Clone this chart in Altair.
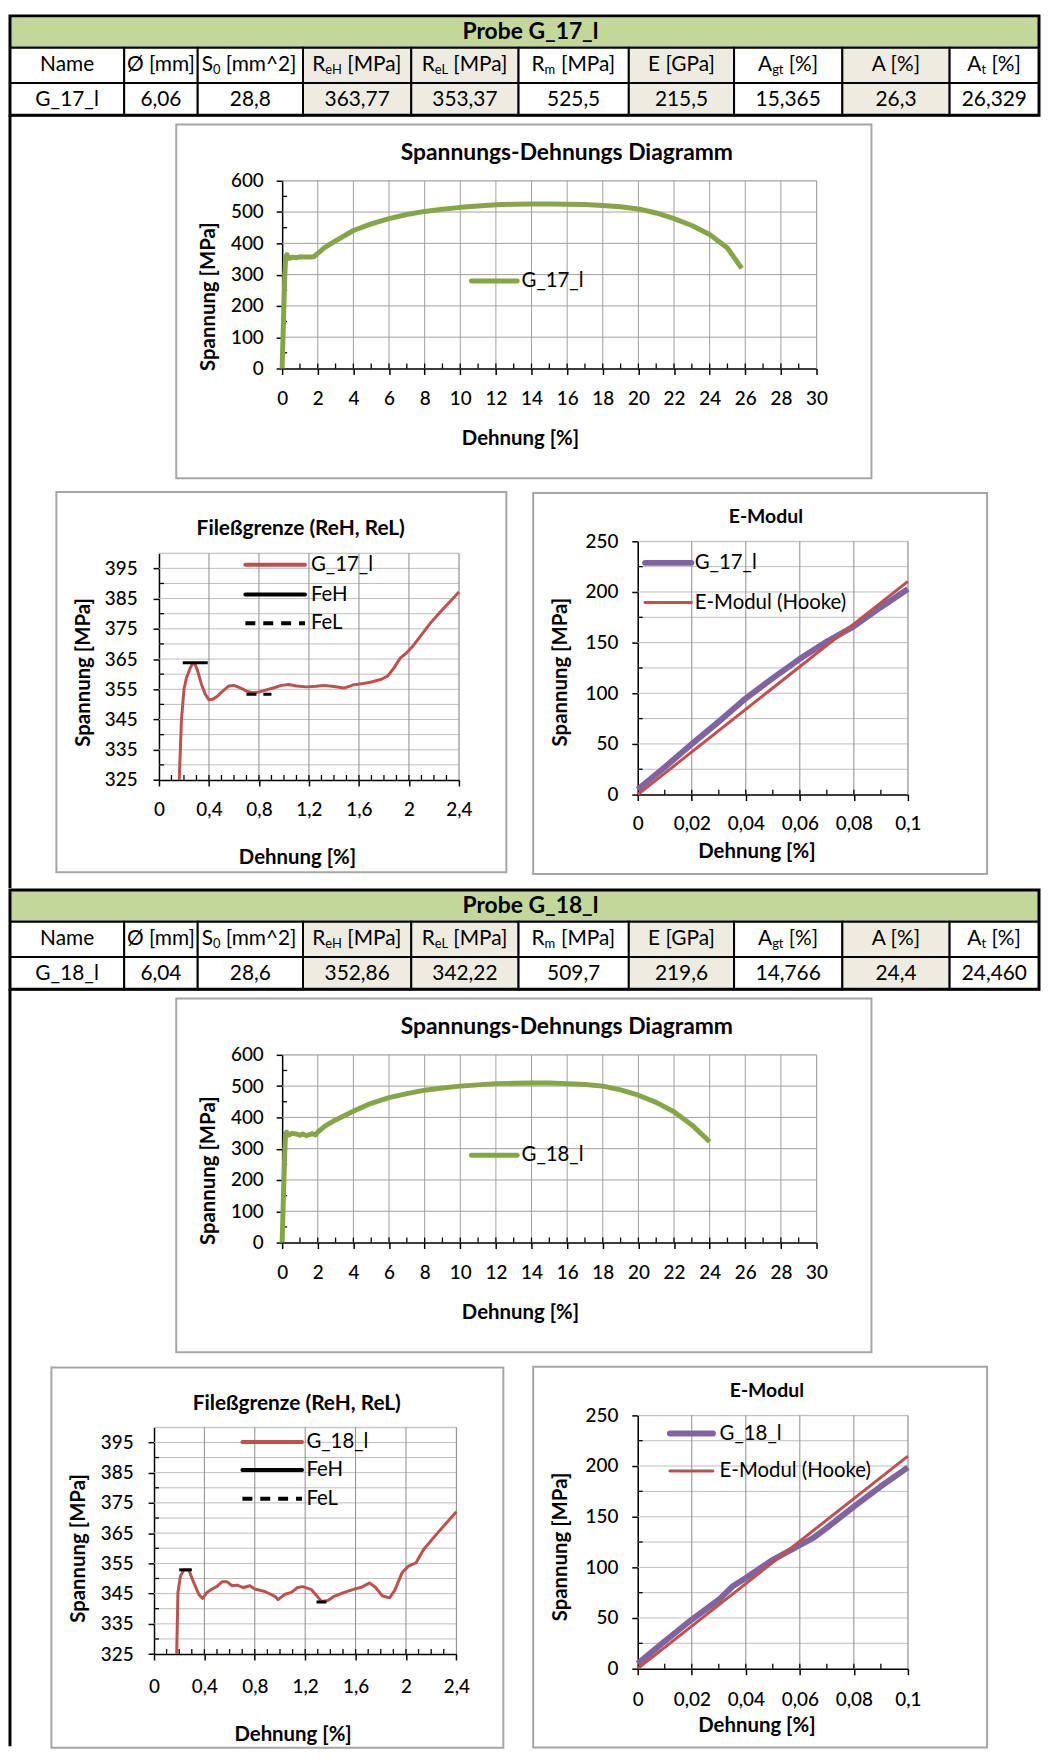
import altair as alt
import pandas as pd

FONT = "Lato"
GREEN = "#84A647"
RED = "#C0504D"
PURPLE = "#8064A2"
HEADER_FILL = "#C4D79B"
SHADE_FILL = "#EEECE1"
BOX_STROKE = "#A6A6A6"
GRID_V = "#8C8C8C"
GRID_H = "#BDBDBD"
GRID_MAIN = "#A0A0A0"

# ---------------- table content ----------------
header_prefix = ["Name", "Ø [mm]", "S", "R", "R", "R", "E [GPa]", "A", "A [%]", "A"]
header_sub = ["", "", "0", "eH", "eL", "m", "", "gt", "", "t"]
header_suffix = ["", "", " [mm^2]", " [MPa]", " [MPa]", " [MPa]", "", " [%]", "", " [%]"]
shaded_columns = [3, 4, 6, 8]

probe_titles = ["Probe G_17_l", "Probe G_18_l"]
series_names = ["G_17_l", "G_18_l"]
g17_values = ["G_17_l", "6,06", "28,8", "363,77", "353,37", "525,5", "215,5", "15,365", "26,3", "26,329"]
g18_values = ["G_18_l", "6,04", "28,6", "352,86", "342,22", "509,7", "219,6", "14,766", "24,4", "24,460"]

# ---------------- curves ----------------
g17_main_x = [0, 0.05, 0.1, 0.15, 0.2, 0.27, 0.4, 0.6, 0.8, 1.0, 1.3, 1.6, 1.8, 2.0, 2.4,
              3, 4, 5, 6, 7, 8, 9, 10, 11, 12, 13, 14, 15, 16, 17, 18, 19, 20, 21, 22, 23, 24, 25, 25.8]
g17_main_y = [0, 105, 203, 300, 358, 364, 352, 356, 354, 357, 356, 356, 358, 368, 387,
              408, 441, 462, 479, 492, 502, 509, 515, 519, 523, 525, 526, 526, 525, 524, 521, 517, 510, 497, 479, 457, 428, 385, 320]

g18_main_x = [0, 0.05, 0.1, 0.15, 0.19, 0.25, 0.38, 0.55, 0.8, 1.0, 1.15, 1.35, 1.7, 1.87, 2.0, 2.4,
              3, 4, 5, 6, 7, 8, 9, 10, 11, 12, 13, 14, 15, 16, 17, 18, 19, 20, 21, 22, 23, 24]
g18_main_y = [0, 105, 200, 290, 346, 353, 344, 349, 347, 343, 347, 342, 348, 344, 353, 372,
              392, 420, 445, 463, 476, 487, 494, 500, 504, 508, 509, 510, 510, 508, 505, 500, 488, 471, 448, 418, 376, 322]

g17_yield_x = [0.162, 0.18, 0.2, 0.22, 0.25, 0.27, 0.29, 0.31, 0.34, 0.37, 0.40, 0.43, 0.47, 0.51, 0.56,
               0.60, 0.65, 0.70, 0.75, 0.80, 0.86, 0.92, 0.98, 1.04, 1.10, 1.18, 1.26, 1.32, 1.40, 1.48,
               1.55, 1.62, 1.70, 1.78, 1.83, 1.88, 1.93, 1.98, 2.03, 2.10, 2.17, 2.24, 2.32, 2.40]
g17_yield_y = [325, 345, 355, 358.8, 362, 363.7, 363.2, 361, 356.6, 353.4, 351.5, 351.7, 352.8, 354.4, 356.1,
               356.3, 355.5, 354.4, 353.9, 354.1, 354.8, 355.5, 356.3, 356.6, 356.1, 355.8, 356.0, 356.3, 355.9, 355.4,
               356.4, 356.8, 357.4, 358.3, 359.4, 362.1, 365.3, 367.0, 369.2, 373.0, 376.8, 380.1, 383.6, 387.2]

g18_yield_x = [0.18, 0.19, 0.21, 0.237, 0.276, 0.315, 0.355, 0.386, 0.42, 0.46, 0.5, 0.54, 0.58, 0.62, 0.66,
               0.71, 0.76, 0.80, 0.88, 0.96, 0.985, 1.04, 1.09, 1.14, 1.18, 1.25, 1.29, 1.33, 1.38, 1.43,
               1.51, 1.59, 1.64, 1.71, 1.76, 1.81, 1.87, 1.91, 1.97, 2.02, 2.08, 2.14, 2.25, 2.4]
g18_yield_y = [325, 345.4, 350.8, 352.8, 352.8, 348.7, 344.8, 343.4, 345.4, 346.5, 347.4, 348.9, 348.9, 347.6, 347.8,
               347.0, 347.6, 346.5, 345.7, 344.1, 343.0, 344.8, 345.4, 347.0, 347.3, 346.3, 344.4, 342.4, 342.7, 344.1,
               345.4, 346.5, 347.0, 348.5, 347.0, 344.3, 343.6, 346.0, 352.0, 354.1, 355.2, 359.6, 365.0, 372.1]

g17_feh_x = [0.19, 0.39]
g17_feh_y = [363.77, 363.77]
g17_fel_x = [0.70, 0.90]
g17_fel_y = [353.37, 353.37]
g18_feh_x = [0.20, 0.30]
g18_feh_y = [352.86, 352.86]
g18_fel_x = [1.29, 1.39]
g18_fel_y = [342.22, 342.22]

g17_e_x = [0, 0.01, 0.02, 0.03, 0.04, 0.05, 0.06, 0.07, 0.08, 0.09, 0.1]
g17_e_y = [5, 27, 50, 72, 95, 115, 134, 151, 166, 185, 203]
g18_e_x = [0, 0.01, 0.02, 0.03, 0.035, 0.04, 0.05, 0.06, 0.065, 0.07, 0.08, 0.09, 0.1]
g18_e_y = [5, 27, 48.5, 68, 81, 89.5, 107.5, 122, 129, 139, 160, 180, 198.7]
hooke_x = [0, 0.1]
g17_hooke_y = [0, 210.5]
g18_hooke_y = [0, 209.8]

# ---------------- tick / grid values ----------------
main_x_ticks = list(range(0, 31, 2))
main_y_ticks = list(range(0, 601, 100))
main_x_minor = list(range(1, 30))
main_y_minor = list(range(50, 600, 100))
yield_x_ticks = [round(i * 0.4, 1) for i in range(7)]
yield_y_ticks = list(range(325, 400, 10))
yield_y_grid = list(range(330, 401, 5))
yield_x_minor = [round(i * 0.1, 1) for i in range(1, 24)]
yield_y_minor = list(range(330, 400, 10))
e_x_ticks = [round(i * 0.02, 2) for i in range(6)]
e_y_ticks = list(range(0, 251, 50))
e_y_grid = list(range(25, 251, 25))
e_x_minor = [round(i * 0.01, 2) for i in range(1, 10)]
e_y_minor = list(range(25, 250, 50))

ONE = pd.DataFrame({"k": [0]})

TICK_SIZE = 19
LEGEND_SIZE = 20.5
XTITLE_SIZE = 20.5
YTITLE_SIZE = 20.5
TABLE_SIZE = 21
SUB_SIZE = 13

CHAR_W = {' ': 0.26, '[': 0.32, ']': 0.32, '(': 0.32, ')': 0.32, 'm': 0.85, 'M': 0.89, 'P': 0.60,
          'a': 0.50, 'R': 0.63, 'S': 0.53, 'A': 0.68, 'E': 0.57, 'G': 0.72, 'e': 0.52, 'H': 0.76,
          'L': 0.49, 'g': 0.51, 't': 0.35, '%': 0.79, '^': 0.58, 'Ø': 0.79, 'N': 0.76}


def wtext(s, size):
    return sum(CHAR_W.get(ch, 0.58) for ch in s) * size


def text_layer(text, x, y, size, weight="normal", angle=0, align="center"):
    kw = dict(text=text, font=FONT, fontSize=size, fontWeight=weight, align=align,
              baseline="middle", color="black")
    if angle:
        kw["angle"] = angle
    return alt.Chart(ONE).mark_text(**kw).encode(x=alt.value(x), y=alt.value(y))


def spacer(w, h):
    return alt.Chart(ONE).mark_rect(opacity=0).encode(
        x=alt.value(0), x2=alt.value(0), y=alt.value(0), y2=alt.value(0)
    ).properties(width=w, height=h, view=alt.ViewBackground(stroke="transparent", strokeWidth=0))


# ---------------- table ----------------
TABLE_W = 1036
TABLE_H = 100
COL_EDGES = [0, 115, 189, 295, 404, 512, 623, 729, 838, 946, 1036]
BAND = (0, 32)
ROW1 = (32, 67.5)
ROW2 = (67.5, 100)


def table(title, values, line_end):
    xs = alt.Scale(domain=[0, TABLE_W], nice=False, zero=False)
    ys = alt.Scale(domain=[0, TABLE_H], nice=False, zero=False, reverse=True)
    cells = [dict(x0=0, x1=TABLE_W, y0=BAND[0], y1=BAND[1], fill=HEADER_FILL)]
    for (y0, y1) in (ROW1, ROW2):
        for c in range(10):
            cells.append(dict(x0=COL_EDGES[c], x1=COL_EDGES[c + 1], y0=y0, y1=y1,
                              fill=SHADE_FILL if c in shaded_columns else "white"))
    cells_df = pd.DataFrame(cells)
    rects = alt.Chart(cells_df).mark_rect(stroke="black", strokeWidth=2).encode(
        x=alt.X("x0:Q", scale=xs, axis=None), x2="x1:Q",
        y=alt.Y("y0:Q", scale=ys, axis=None), y2="y1:Q",
        fill=alt.Fill("fill:N", scale=None))
    frame = alt.Chart(pd.DataFrame([dict(x0=0, x1=TABLE_W, y0=0, y1=TABLE_H)])).mark_rect(
        fillOpacity=0, stroke="black", strokeWidth=3).encode(
        x=alt.X("x0:Q", scale=xs, axis=None), x2="x1:Q",
        y=alt.Y("y0:Q", scale=ys, axis=None), y2="y1:Q")

    hy = (ROW1[0] + ROW1[1]) / 2
    vy = (ROW2[0] + ROW2[1]) / 2 + 0.5
    centered, left_main, left_sub = [], [], []
    for c in range(10):
        cx = (COL_EDGES[c] + COL_EDGES[c + 1]) / 2
        if header_sub[c] == "":
            centered.append(dict(x=cx, y=hy, t=header_prefix[c]))
        else:
            p, s, f = header_prefix[c], header_sub[c], header_suffix[c]
            total = wtext(p, TABLE_SIZE) + wtext(s, SUB_SIZE) + wtext(f, TABLE_SIZE)
            x0 = cx - total / 2
            left_main.append(dict(x=x0, y=hy, t=p))
            left_sub.append(dict(x=x0 + wtext(p, TABLE_SIZE), y=hy + 5, t=s))
            fx = x0 + wtext(p, TABLE_SIZE) + wtext(s, SUB_SIZE) + wtext(" ", TABLE_SIZE)
            left_main.append(dict(x=fx, y=hy, t=f.strip()))
        centered.append(dict(x=cx, y=vy, t=values[c]))

    def tl(rows, size, align):
        return alt.Chart(pd.DataFrame(rows)).mark_text(
            font=FONT, fontSize=size, align=align, baseline="middle", color="black").encode(
            x=alt.X("x:Q", scale=xs, axis=None), y=alt.Y("y:Q", scale=ys, axis=None), text="t:N")

    title_df = pd.DataFrame([dict(x=524, y=16, t=title)])
    title_layer = alt.Chart(title_df).mark_text(
        font=FONT, fontSize=23, fontWeight="bold", align="center", baseline="middle", color="black").encode(
        x=alt.X("x:Q", scale=xs, axis=None), y=alt.Y("y:Q", scale=ys, axis=None), text="t:N")
    page_line = alt.Chart(ONE).mark_rule(color="black", strokeWidth=3).encode(
        x=alt.value(0), y=alt.value(TABLE_H), y2=alt.value(line_end))
    return alt.layer(rects, frame, tl(centered, TABLE_SIZE, "center"), tl(left_main, TABLE_SIZE, "left"),
                     tl(left_sub, SUB_SIZE, "left"), title_layer, page_line).properties(
        width=TABLE_W, height=TABLE_H)


# ---------------- generic panel ----------------
def panel(W, H, xdom, ydom, xticks, yticks, xgrid, ygrid, xminor, yminor, vcol, hcol,
          series, legend, g):
    xs = alt.Scale(domain=xdom, nice=False, zero=False)
    ys = alt.Scale(domain=ydom, nice=False, zero=False)
    common = dict(title="", grid=False, domainColor="black", domainWidth=1.5, tickColor="black",
                  tickWidth=1.5, tickSize=6, labelFont=FONT, labelFontSize=TICK_SIZE, labelColor="black",
                  labelFontWeight=500, labelFlush=False, labelOverlap=False)
    ax_x = alt.Axis(values=xticks, labelPadding=g["xlab"] - 6, labelBaseline="middle",
                    labelExpr="replace(format(datum.value, '~g'), '.', ',')", **common)
    ax_y = alt.Axis(values=yticks, labelPadding=g["ylab"] - 6, **common)

    def X():
        return alt.X("x:Q", scale=xs, axis=ax_x)

    def Y():
        return alt.Y("y:Q", scale=ys, axis=ax_y)

    bx = g["box"]
    layers = [
        alt.Chart(ONE).mark_rect(fillOpacity=0, stroke=BOX_STROKE, strokeWidth=2).encode(
            x=alt.value(bx[0]), x2=alt.value(bx[2]), y=alt.value(bx[1]), y2=alt.value(bx[3])),
        alt.Chart(pd.DataFrame({"y": ygrid})).mark_rule(color=hcol, strokeWidth=1).encode(y=Y()),
        alt.Chart(pd.DataFrame({"x": xgrid})).mark_rule(color=vcol, strokeWidth=1).encode(x=X()),
        alt.Chart(pd.DataFrame({"x": xminor})).mark_rule(color="black", strokeWidth=1.3).encode(
            x=X(), y=alt.value(H), y2=alt.value(H - 5)),
        alt.Chart(pd.DataFrame({"y": yminor})).mark_rule(color="black", strokeWidth=1.3).encode(
            y=Y(), x=alt.value(0), x2=alt.value(5)),
    ]
    for s in series:
        df = pd.DataFrame({"x": s["x"], "y": s["y"], "i": list(range(len(s["x"])))})
        kw = dict(color=s["color"], strokeWidth=s["width"], strokeJoin="round", strokeCap="butt")
        if s.get("dash"):
            kw["strokeDash"] = s["dash"]
        layers.append(alt.Chart(df).mark_line(**kw).encode(x=X(), y=Y(), order="i:Q"))
    for item in legend:
        kw = dict(color=item["color"], strokeWidth=item["width"], strokeCap="round" if not item.get("dash") else "butt")
        if item.get("dash"):
            kw["strokeDash"] = item["dash"]
        layers.append(alt.Chart(ONE).mark_rule(**kw).encode(
            x=alt.value(item["x0"]), x2=alt.value(item["x1"]), y=alt.value(item["y"])))
        layers.append(text_layer(item["label"], item["tx"], item["y"], LEGEND_SIZE, align="left"))
    layers.append(text_layer(g["title"], g["title_xy"][0], g["title_xy"][1], g["title_size"], "bold"))
    layers.append(text_layer("Dehnung [%]", g["xt"][0], g["xt"][1], XTITLE_SIZE, "bold"))
    layers.append(text_layer("Spannung [MPa]", g["yt"][0], g["yt"][1], YTITLE_SIZE, "bold", angle=270))
    return alt.layer(*layers).properties(width=W, height=H)


def main_chart(i):
    xs_ = [g17_main_x, g18_main_x][i]
    ys_ = [g17_main_y, g18_main_y][i]
    W, H = 538, 189
    g = dict(box=(-106.6, -56.6, 593.3, 299.4), title="Spannungs-Dehnungs Diagramm",
             title_xy=(286.6, -28.3), title_size=23, xt=(240, 260), yt=(-73.5, 116.7),
             xlab=30, ylab=19)
    series = [dict(x=xs_, y=ys_, color=GREEN, width=5)]
    legend = [dict(x0=190.5, x1=236.7, y=101, color=GREEN, width=5, label=series_names[i], tx=241)]
    return panel(W, H, [0, 30], [0, 600], main_x_ticks, main_y_ticks, main_x_ticks[1:],
                 main_y_ticks[1:], main_x_minor, main_y_minor, GRID_MAIN, GRID_MAIN,
                 series, legend, g)


def yield_chart(i):
    W = [302, 304.4][i]
    H = 228.3
    g = [dict(box=(-103.3, -61.7, 349.7, 321.3), title_xy=(142.7, -24.7), xt=(139.4, 306.6),
              yt=(-75.6, 120), xlab=30, ylab=22),
         dict(box=(-103.3, -60.3, 351.7, 322.7), title_xy=(143.7, -23.3), xt=(140, 309.7),
              yt=(-75, 122), xlab=32.6, ylab=21)][i]
    g.update(title="Fileßgrenze (ReH, ReL)", title_size=21)
    lx0, lx1, ly, tx = [(87, 147, (11.6, 41.6, 70.6), 153), (89, 149, (14.7, 43, 72), 153.4)][i]
    series = [
        dict(x=[g17_yield_x, g18_yield_x][i], y=[g17_yield_y, g18_yield_y][i], color=RED, width=3),
        dict(x=[g17_feh_x, g18_feh_x][i], y=[g17_feh_y, g18_feh_y][i], color="black", width=3),
        dict(x=[g17_fel_x, g18_fel_x][i], y=[g17_fel_y, g18_fel_y][i], color="black", width=3, dash=[10, 7]),
    ]
    legend = [
        dict(x0=lx0, x1=lx1, y=ly[0], color=RED, width=4, label=series_names[i], tx=tx),
        dict(x0=lx0, x1=lx1, y=ly[1], color="black", width=4, label="FeH", tx=tx),
        dict(x0=lx0, x1=lx1, y=ly[2], color="black", width=4, label="FeL", tx=tx, dash=[10, 8]),
    ]
    return panel(W, H, [0, 2.4], [325, 400], yield_x_ticks, yield_y_ticks, yield_x_ticks[1:],
                 yield_y_grid, yield_x_minor, yield_y_minor, GRID_V, GRID_H, series, legend, g)


def emod_chart(i):
    W, H = 272, 255
    g = [dict(box=(-105.3, -48.6, 351.7, 335), title_xy=(129, -24), xt=(120, 312.7),
              yt=(-77, 131.7), xlab=29, ylab=20),
         dict(box=(-105.3, -49, 351.7, 334.3), title_xy=(130, -24.3), xt=(120, 313),
              yt=(-77, 132.5), xlab=31.4, ylab=20)][i]
    g.update(title="E-Modul", title_size=19.5)
    lx0, lx1, ly, tx = [(7.4, 54, (21.7, 61.7), 57.4), (32.4, 75.7, (18.3, 56), 82.4)][i]
    series = [
        dict(x=[g17_e_x, g18_e_x][i], y=[g17_e_y, g18_e_y][i], color=PURPLE, width=6),
        dict(x=hooke_x, y=[g17_hooke_y, g18_hooke_y][i], color=RED, width=3),
    ]
    legend = [
        dict(x0=lx0, x1=lx1, y=ly[0], color=PURPLE, width=6, label=series_names[i], tx=tx),
        dict(x0=lx0, x1=lx1, y=ly[1], color=RED, width=3, label="E-Modul (Hooke)", tx=tx),
    ]
    return panel(W, H, [0, 0.1], [0, 250], e_x_ticks, e_y_ticks, e_x_ticks[1:], e_y_grid,
                 e_x_minor, e_y_minor, GRID_V, GRID_H, series, legend, g)


# Nested concat groups count as zero size in a flush layout, so the spacers
# that follow them carry the group's own extent as well.
MAIN_H = 189
ROW_H = 255


def block(i):
    values = [g17_values, g18_values][i]
    line_end = [878, 862][i]
    fl_left = [149.3, 144.3][i]
    fl_w = [302, 304.4][i]
    gap = [180, 182.6][i]
    main_row = alt.hconcat(spacer(274, 1), main_chart(i), spacing=0, bounds="flush")
    small_row = alt.hconcat(
        spacer(fl_left, 1),
        alt.vconcat(spacer(1, 11.4), yield_chart(i), spacing=0, bounds="flush"),
        spacer(fl_w + gap, 1),
        emod_chart(i),
        spacing=0, bounds="flush")
    return [table(probe_titles[i], values, line_end), spacer(1, 65.5), main_row,
            spacer(1, MAIN_H + 173.5), small_row]


rows = block(0) + [spacer(1, ROW_H + 95.7)] + block(1)
chart = alt.vconcat(*rows, spacing=0, bounds="flush", padding=0).configure_view(
    stroke="transparent", strokeWidth=0).configure(font=FONT, background="white")

chart.save("out.html", embed_options={"renderer": "svg", "actions": False})
